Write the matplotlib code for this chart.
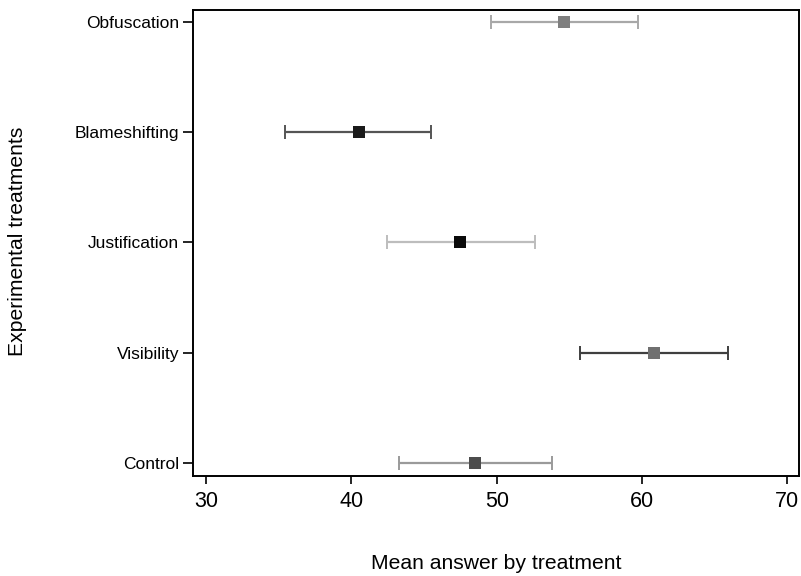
import matplotlib
matplotlib.use("Agg")
import matplotlib.pyplot as plt

plt.rcParams['font.family'] = ['Liberation Sans', 'DejaVu Sans']

categories = ["Control", "Visibility", "Justification", "Blameshifting", "Obfuscation"]
means = [48.5, 60.8, 47.5, 40.5, 54.65]
ci_low = [43.25, 55.7, 42.45, 35.45, 49.6]
ci_high = [53.8, 65.9, 52.65, 45.5, 59.7]
marker_colors = ["#4d4d4d", "#707070", "#0a0a0a", "#1a1a1a", "#7f7f7f"]
bar_colors = ["#9a9a9a", "#3f3f3f", "#bdbdbd", "#555555", "#a8a8a8"]

fig = plt.figure(figsize=(8.01, 5.76), dpi=100)
ax = fig.add_axes([0.241, 0.1736, 0.7565, 0.809])

for i, cat in enumerate(categories):
    m = means[i]
    err = [[m - ci_low[i]], [ci_high[i] - m]]
    ax.errorbar([m], [i], xerr=err, fmt='none', ecolor=bar_colors[i],
                elinewidth=1.6, capsize=5, capthick=1.4, zorder=2)
    ax.plot([m], [i], marker='s', markersize=9, color=marker_colors[i],
            markeredgewidth=0, linestyle='none', zorder=3)

ax.set_xlim(29.1, 70.8)
ax.set_ylim(-0.12, 4.11)
ax.set_xticks([30, 40, 50, 60, 70])
ax.set_yticks(range(len(categories)))
ax.set_yticklabels(categories)
ax.tick_params(axis='x', labelsize=15.5, length=6, width=1.2, direction='out', pad=5)
ax.tick_params(axis='y', labelsize=12.5, length=7, width=1.2, direction='out', pad=3)
for s in ax.spines.values():
    s.set_linewidth(1.4)
    s.set_color('black')

ax.set_xlabel("Mean answer by treatment", fontsize=15.2, labelpad=30)
fig.text(18 / 801, 1 - 241 / 576, "Experimental treatments", fontsize=15.2,
         rotation=90, ha='center', va='center')

fig.savefig("out.png", dpi=100)
